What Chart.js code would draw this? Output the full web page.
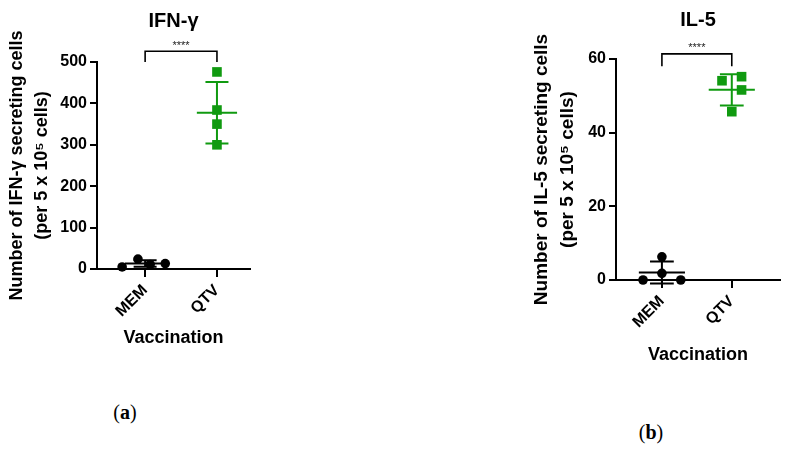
<!DOCTYPE html>
<html>
<head>
<meta charset="utf-8">
<script src="https://cdn.jsdelivr.net/npm/chart.js@4"></script>
<style>
  body { margin: 0; background: #fff; }
  #page { position: relative; width: 790px; height: 451px; overflow: hidden; }
  .panel { position: absolute; }
  .cap { position: absolute; font-family: 'Liberation Serif', 'DejaVu Serif', serif; font-size: 20px; color: #000; transform: translate(-50%, -50%); }
  .cap b { font-weight: bold; }
</style>
</head>
<body>
<div id="page">
  <div class="panel" style="left:0;top:0;width:262px;height:360px;"><canvas id="chart-ifn"></canvas></div>
  <div class="panel" style="left:520px;top:0;width:270px;height:380px;"><canvas id="chart-il5"></canvas></div>
  <div class="cap" style="left:125px;top:412px;">(<b>a</b>)</div>
  <div class="cap" style="left:651px;top:432px;">(<b>b</b>)</div>
</div>
<script>
// groups on the x axis
const groups = ['MEM', 'QTV'];

// IFN-gamma spots per 5 x 10^5 cells
const ifnMem = [5, 24, 11, 13];
const ifnQtv = [476, 384, 350, 300];
const ifnMemJitter = [-0.32, -0.1, 0.07, 0.28];
const ifnQtvJitter = [0, 0, 0, 0];
const ifnTicks = [0, 100, 200, 300, 400, 500];
const ifnBracket = [500, 526];

// IL-5 spots per 5 x 10^5 cells
const il5Mem = [0, 6.3, 1.8, 0];
const il5Qtv = [54.1, 55.2, 51.6, 45.7];
const il5MemJitter = [-0.27, 0, 0, 0.27];
const il5QtvJitter = [-0.14, 0.14, 0.14, 0];
const il5Ticks = [0, 20, 40, 60];
const il5Bracket = [58, 61.4];

const sigLabel = '****';

const BLACK = '#000000';
const GREEN = '#109a10';

Chart.defaults.font.family = "'Liberation Sans', Arial, sans-serif";
Chart.defaults.color = '#000';

function mean(arr) {
    return arr.reduce((s, v) => s + v, 0) / arr.length;
}

function sd(arr) {
    const m = mean(arr);
    return Math.sqrt(arr.reduce((s, v) => s + (v - m) * (v - m), 0) / (arr.length - 1));
}

// mean line + SD whisker with caps, broken into segments with nulls
function errorBar(center, values, halfMean, halfCap) {
    const m = mean(values);
    const s = sd(values);
    return [
        { x: center - halfMean, y: m }, { x: center + halfMean, y: m }, { x: center, y: null },
        { x: center, y: m - s }, { x: center, y: m + s }, { x: center, y: null },
        { x: center - halfCap, y: m + s }, { x: center + halfCap, y: m + s }, { x: center, y: null },
        { x: center - halfCap, y: m - s }, { x: center + halfCap, y: m - s }
    ];
}

function points(center, values, jitter) {
    return values.map((v, i) => ({ x: center + jitter[i], y: v }));
}

const starsPlugin = {
    id: 'stars',
    afterDatasetsDraw(chart, args, opts) {
        const { ctx, scales } = chart;
        const x = scales.x.getPixelForValue(1.5);
        const y = scales.y.getPixelForValue(opts.top);
        ctx.save();
        ctx.fillStyle = '#222';
        ctx.font = "11px 'Liberation Sans', Arial, sans-serif";
        ctx.textAlign = 'center';
        ctx.textBaseline = 'bottom';
        ctx.fillText(sigLabel, x, y);
        ctx.restore();
    }
};

function makeChart(id, cfg) {
    const datasets = [
        {
            data: points(1, cfg.mem, cfg.memJitter),
            pointStyle: 'circle', pointRadius: 4.8,
            backgroundColor: BLACK, borderColor: BLACK, borderWidth: 0, clip: false
        },
        {
            data: points(2, cfg.qtv, cfg.qtvJitter),
            pointStyle: 'rect', pointRadius: 6.8,
            backgroundColor: GREEN, borderColor: GREEN, borderWidth: 0, clip: false
        },
        {
            data: errorBar(1, cfg.mem, cfg.halfMean, cfg.halfCap),
            showLine: true, spanGaps: false, pointRadius: 0,
            borderColor: BLACK, borderWidth: 2, clip: false
        },
        {
            data: errorBar(2, cfg.qtv, cfg.halfMean, cfg.halfCap),
            showLine: true, spanGaps: false, pointRadius: 0,
            borderColor: GREEN, borderWidth: 2, clip: false
        },
        {
            data: [
                { x: 1, y: cfg.bracket[0] }, { x: 1, y: cfg.bracket[1] },
                { x: 2, y: cfg.bracket[1] }, { x: 2, y: cfg.bracket[0] }
            ],
            showLine: true, pointRadius: 0,
            borderColor: BLACK, borderWidth: 1.6, clip: false
        }
    ];

    return new Chart(document.getElementById(id), {
        type: 'scatter',
        data: { datasets },
        plugins: [starsPlugin],
        options: {
            responsive: true,
            maintainAspectRatio: false,
            animation: false,
            layout: { padding: { left: 0, right: cfg.padRight, top: 0, bottom: 0 } },
            plugins: {
                legend: { display: false },
                tooltip: { enabled: false },
                stars: { top: cfg.bracket[1] },
                title: {
                    display: true,
                    text: cfg.title,
                    fullSize: false,
                    font: { size: 20, weight: 'bold', lineHeight: '24px' },
                    padding: cfg.titlePad
                }
            },
            scales: {
                x: {
                    type: 'linear',
                    min: cfg.xMin,
                    max: cfg.xMax,
                    afterBuildTicks: s => { s.ticks = groups.map((g, i) => ({ value: i + 1 })); },
                    afterFit: s => { s.height = cfg.xHeight; },
                    ticks: {
                        callback: v => groups[v - 1],
                        minRotation: 45, maxRotation: 45,
                        padding: 4,
                        font: { size: 16, weight: 'bold' }
                    },
                    grid: { drawOnChartArea: false, drawTicks: true, tickLength: 8, color: BLACK, lineWidth: 2 },
                    border: { color: BLACK, width: 2 },
                    title: {
                        display: true, text: 'Vaccination',
                        font: { size: 18, weight: 'bold', lineHeight: '22px' },
                        padding: { top: 0, bottom: cfg.xTitlePad }
                    }
                },
                y: {
                    min: 0,
                    max: cfg.yTicks[cfg.yTicks.length - 1],
                    afterBuildTicks: s => { s.ticks = cfg.yTicks.map(v => ({ value: v })); },
                    afterFit: s => { s.width = cfg.yWidth; },
                    ticks: { padding: 3, font: { size: 16, weight: 'bold' } },
                    grid: { drawOnChartArea: false, drawTicks: true, tickLength: 7, color: BLACK, lineWidth: 2 },
                    border: { color: BLACK, width: 2 },
                    title: {
                        display: true,
                        text: cfg.yTitle,
                        font: { size: cfg.yTitleSize, weight: 'bold', lineHeight: cfg.yTitleLine },
                        padding: { top: cfg.yTitlePad, bottom: 0 }
                    }
                }
            }
        }
    });
}

makeChart('chart-ifn', {
    title: 'IFN-γ',
    mem: ifnMem, qtv: ifnQtv, memJitter: ifnMemJitter, qtvJitter: ifnQtvJitter,
    yTicks: ifnTicks, bracket: ifnBracket,
    yTitle: ['Number of IFN-γ secreting cells', '(per 5 x 10⁵ cells)'],
    yTitleSize: 18, yTitleLine: '25px', yTitlePad: 5,
    xMin: 0.33, xMax: 2.46, halfMean: 0.28, halfCap: 0.16,
    padRight: 12, yWidth: 97, xHeight: 91, xTitlePad: 11,
    titlePad: { top: 9, bottom: 29 }
});

makeChart('chart-il5', {
    title: 'IL-5',
    mem: il5Mem, qtv: il5Qtv, memJitter: il5MemJitter, qtvJitter: il5QtvJitter,
    yTicks: il5Ticks, bracket: il5Bracket,
    yTitle: ['Number of IL-5 secreting cells', '(per 5 x 10⁵ cells)'],
    yTitleSize: 19, yTitleLine: '26px', yTitlePad: 9,
    xMin: 0.343, xMax: 2.69, halfMean: 0.33, halfCap: 0.17,
    padRight: 10, yWidth: 96, xHeight: 100, xTitlePad: 13.5,
    titlePad: { top: 8, bottom: 27 }
});
</script>
</body>
</html>
